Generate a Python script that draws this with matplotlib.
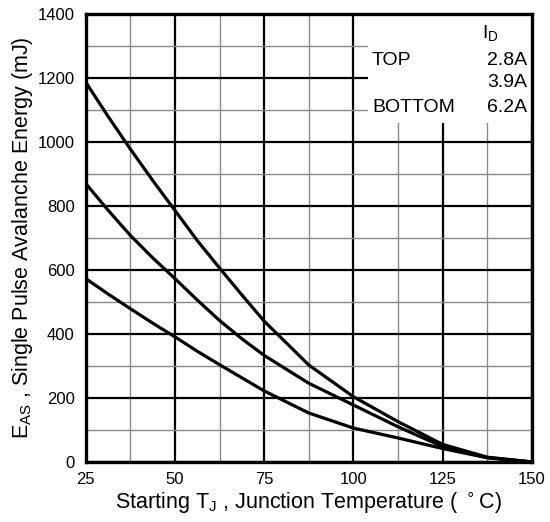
import matplotlib.pyplot as plt
from matplotlib.patches import Rectangle
import numpy as np

plt.rcParams['font.family'] = ['Liberation Sans', 'DejaVu Sans']

tj = [25, 31.25, 37.5, 43.75, 50, 56.25, 62.5, 68.75, 75, 87.5, 100, 112.5, 125, 137.5, 150]
eas_top = [1187, 1080, 978, 880, 786, 692, 606, 522, 440, 303, 204, 126, 55, 15, 0]   # 2.8A
eas_mid = [870, 787, 708, 638, 573, 506, 442, 385, 333, 246, 178, 110, 48, 14, 0]     # 3.9A
eas_bot = [573, 525, 479, 434, 391, 346, 304, 263, 222, 153, 106, 75, 42, 13, 0]      # 6.2A

legend_names = ["TOP", "", "BOTTOM"]
legend_currents = ["2.8A", "3.9A", "6.2A"]

fig = plt.figure(figsize=(5.5, 5.22), dpi=100)
ax = fig.add_axes([0.156, 0.115, 0.811, 0.858])

for e in (eas_top, eas_mid, eas_bot):
    ax.plot(tj, e, color="black", lw=2.3, solid_capstyle="butt", zorder=4)

ax.set_xlim(25, 150)
ax.set_ylim(0, 1400)
ax.set_xticks([25, 50, 75, 100, 125, 150])
ax.set_yticks(np.arange(0, 1401, 200))
ax.set_xticks(np.arange(37.5, 150, 25), minor=True)
ax.set_yticks(np.arange(100, 1400, 200), minor=True)
ax.grid(which="major", color="black", lw=1.6, zorder=1)
ax.grid(which="minor", color="#8a8a8a", lw=1.0, zorder=1)
ax.set_axisbelow(True)
ax.tick_params(which="both", length=0, labelsize=12)
ax.tick_params(axis="x", pad=7)
ax.tick_params(axis="y", pad=8)
for s in ax.spines.values():
    s.set_linewidth(2.4)
    s.set_zorder(6)

# legend block
ax.add_patch(Rectangle((104, 1060), 46, 340, facecolor="white", edgecolor="none", zorder=3))
ax.text(136.0, 1338, r"I$_\mathregular{D}$", fontsize=14, va="center", zorder=5)
ys = [1256, 1187, 1109]
for name, cur, y in zip(legend_names, legend_currents, ys):
    ax.text(105.2, y, name, fontsize=14, va="center", zorder=5)
    ax.text(148.6, y, cur, fontsize=14, va="center", ha="right", zorder=5)

ax.set_xlabel(r"Starting T$_\mathregular{J}$ , Junction Temperature ( $^\circ$C)", fontsize=15.5, labelpad=3)
ax.set_ylabel(r"E$_\mathregular{AS}$ , Single Pulse Avalanche Energy (mJ)", fontsize=15.5, labelpad=2)

fig.savefig("out.png", dpi=100)
